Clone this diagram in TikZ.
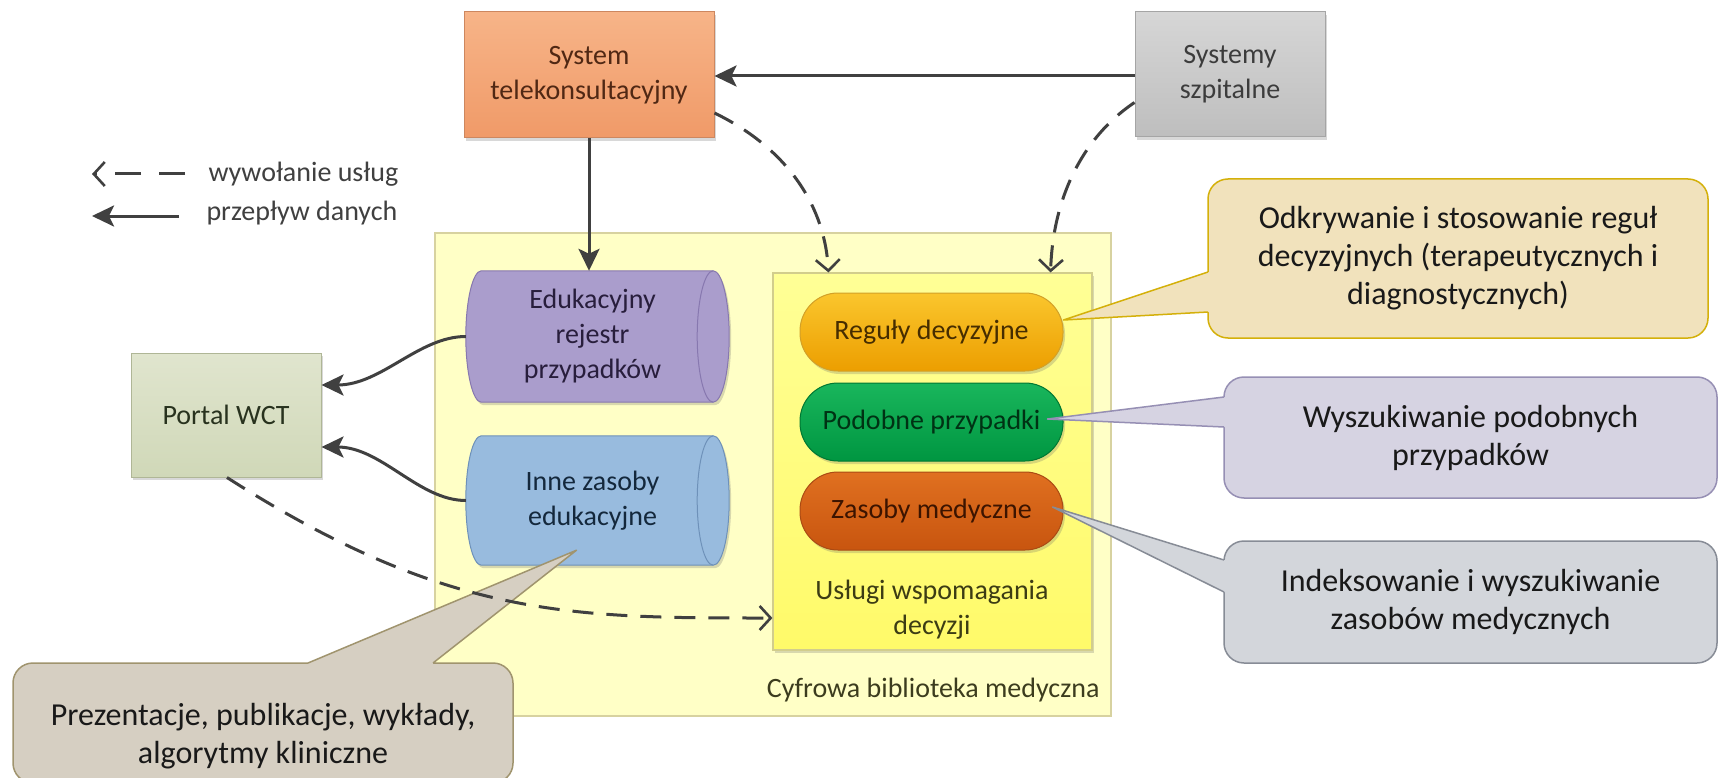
\documentclass[tikz,border=0pt]{standalone}
\usepackage{fontspec}
\setmainfont{Carlito}
\usetikzlibrary{arrows.meta,calc,shadows}

% palette
\definecolor{arrowgray}{RGB}{64,64,64}
\definecolor{teleTop}{RGB}{247,180,136}
\definecolor{teleBot}{RGB}{240,154,104}
\definecolor{teleLine}{RGB}{205,135,95}
\definecolor{teleText}{RGB}{80,40,20}
\definecolor{hospTop}{RGB}{214,214,214}
\definecolor{hospBot}{RGB}{190,190,190}
\definecolor{hospLine}{RGB}{165,165,165}
\definecolor{portTop}{RGB}{224,229,206}
\definecolor{portBot}{RGB}{208,216,184}
\definecolor{portLine}{RGB}{175,182,150}
\definecolor{libFill}{RGB}{255,255,198}
\definecolor{libLine}{RGB}{215,210,160}
\definecolor{dssTop}{RGB}{255,255,150}
\definecolor{dssBot}{RGB}{255,250,105}
\definecolor{dssLine}{RGB}{210,205,140}
\definecolor{eduFill}{RGB}{170,157,204}
\definecolor{eduLine}{RGB}{135,120,175}
\definecolor{eduText}{RGB}{40,30,60}
\definecolor{inneFill}{RGB}{152,187,222}
\definecolor{inneLine}{RGB}{110,145,185}
\definecolor{inneText}{RGB}{20,40,60}
\definecolor{regTop}{RGB}{250,198,45}
\definecolor{regBot}{RGB}{236,158,0}
\definecolor{regLine}{RGB}{210,160,40}
\definecolor{podTop}{RGB}{25,182,92}
\definecolor{podBot}{RGB}{0,150,65}
\definecolor{podLine}{RGB}{0,120,50}
\definecolor{zasTop}{RGB}{224,112,32}
\definecolor{zasBot}{RGB}{200,85,15}
\definecolor{zasLine}{RGB}{170,75,20}
\definecolor{cAfill}{RGB}{241,226,188}
\definecolor{cAline}{RGB}{212,176,10}
\definecolor{cBfill}{RGB}{214,211,226}
\definecolor{cBline}{RGB}{150,143,180}
\definecolor{cCfill}{RGB}{211,214,219}
\definecolor{cCline}{RGB}{135,140,150}
\definecolor{cDfill}{RGB}{214,207,194}
\definecolor{cDline}{RGB}{160,148,110}

% horizontal drum (storage) outline built on the frame node #1
\newcommand{\drawdrum}[3]{%
  \draw[#2] ($(#1.north west)+(15.5,0)$) -- ($(#1.north east)+(-16,0)$)
    .. controls ($(#1.north east)+(-7.2,0)$) and ($(#1.east)+(0,-36)$) .. (#1.east)
    .. controls ($(#1.east)+(0,36)$) and ($(#1.south east)+(-7.2,0)$) .. ($(#1.south east)+(-16,0)$)
    -- ($(#1.south west)+(15.5,0)$)
    .. controls ($(#1.south west)+(7,0)$) and ($(#1.west)+(0,36)$) .. (#1.west)
    .. controls ($(#1.west)+(0,-36)$) and ($(#1.north west)+(7,0)$) .. ($(#1.north west)+(15.5,0)$)
    -- cycle;
  \draw[#3] ($(#1.north east)+(-16,0)$)
    .. controls ($(#1.north east)+(-24.8,0)$) and ($(#1.east)+(-32,-36)$) .. ($(#1.east)+(-32,0)$)
    .. controls ($(#1.east)+(-32,36)$) and ($(#1.south east)+(-24.8,0)$) .. ($(#1.south east)+(-16,0)$);
}

\begin{document}
\begin{tikzpicture}[x=1pt,y=-1pt,
  lbl/.style={font=\fontsize{28}{35}\selectfont, align=center},
  calltxt/.style={font=\fontsize{32}{38}\selectfont, align=center, text=black!90},
  shadowed/.style={drop shadow={shadow xshift=2pt,shadow yshift=-3pt,opacity=0.25,fill=black!60}},
  sysbox/.style={lbl, draw, line width=1pt, shadowed, inner sep=0pt},
  pill/.style={lbl, draw, line width=1pt, rounded corners=38pt, minimum width=263pt, minimum height=78pt, shadowed, inner sep=0pt},
  frame/.style={inner sep=0pt, minimum width=263pt},
  callbox/.style={calltxt, draw, line width=1.5pt, rounded corners=20pt, inner sep=0pt},
  flow/.style={line width=3pt, draw=arrowgray, -{Stealth[length=22pt,width=21pt,inset=5pt]}},
  invoke/.style={line width=3pt, draw=arrowgray, dash pattern=on 21pt off 13pt,
    -{Straight Barb[length=11pt,width=24pt,line width=2.6pt]}},
]
\useasboundingbox (0,0) rectangle (1720,778);
\fill[white] (0,0) rectangle (1720,778);

% library container and decision-support panel
\node[draw=libLine, fill=libFill, line width=1.2pt, minimum width=676pt, minimum height=483pt, inner sep=0pt] (lib) at (773,474.5) {};
\node[lbl, anchor=east, text={rgb,255:red,60;green,60;blue,30}] (libname) at (1103,690) {Cyfrowa biblioteka medyczna};
\node[draw=dssLine, top color=dssTop, bottom color=dssBot, line width=1.2pt, minimum width=319pt, minimum height=377pt, inner sep=0pt, shadowed] (dss) at (932.5,461.5) {};
\node[lbl, text={rgb,255:red,60;green,60;blue,20}] (dssname) at (932,610) {Usługi wspomagania\\decyzji};

% services
\node[pill, draw=regLine, top color=regTop, bottom color=regBot, text={rgb,255:red,70;green,45;blue,0}] (reg) at (931.5,332) {Reguły decyzyjne};
\node[pill, draw=podLine, top color=podTop, bottom color=podBot, text={rgb,255:red,0;green,50;blue,20}] (pod) at (931.5,422) {Podobne przypadki};
\node[pill, draw=zasLine, top color=zasTop, bottom color=zasBot, text={rgb,255:red,60;green,20;blue,0}] (zas) at (931.5,511) {Zasoby medyczne};

% repositories
\node[frame, minimum height=131pt] (edu) at (597.5,336.5) {};
\drawdrum{edu}{draw=eduLine, fill=eduFill, line width=1pt, shadowed}{draw=eduLine, line width=1pt}
\node[lbl, text=eduText] (edulabel) at ($(edu.center)+(-5,0)$) {Edukacyjny\\rejestr\\przypadków};
\node[frame, minimum height=129pt] (inne) at (597.5,500.5) {};
\drawdrum{inne}{draw=inneLine, fill=inneFill, line width=1pt, shadowed}{draw=inneLine, line width=1pt}
\node[lbl, text=inneText] (innelabel) at ($(inne.center)+(-5,0)$) {Inne zasoby\\edukacyjne};

% external systems
\node[sysbox, draw=teleLine, top color=teleTop, bottom color=teleBot, text=teleText, minimum width=250pt, minimum height=126pt] (tele) at (589,75) {System\\telekonsultacyjny};
\node[sysbox, draw=hospLine, top color=hospTop, bottom color=hospBot, text={rgb,255:red,60;green,60;blue,60}, minimum width=190pt, minimum height=125pt] (hosp) at (1230,74.5) {Systemy\\szpitalne};
\node[sysbox, draw=portLine, top color=portTop, bottom color=portBot, text={rgb,255:red,40;green,50;blue,30}, minimum width=190pt, minimum height=124pt] (portal) at (226,415) {Portal WCT};

% callouts
\node[callbox, draw=cAline, fill=cAfill, minimum width=500pt, minimum height=159pt] (noteA) at (1458,258.5) {Odkrywanie i stosowanie reguł\\decyzyjnych (terapeutycznych i\\diagnostycznych)};
\coordinate (tipA) at ($(reg.east)+(0,-12)$);
\fill[cAfill] (1208,272) -- (tipA) -- (1208,312) -- (1214,312) -- (1214,272) -- cycle;
\draw[cAline, line width=1.5pt, line join=round] (1208,272) -- (tipA) -- (1208,312);

\node[callbox, draw=cBline, fill=cBfill, minimum width=493pt, minimum height=121pt] (noteB) at (1470.5,437.5) {Wyszukiwanie podobnych\\przypadków};
\coordinate (tipB) at ($(pod.east)+(-16,-3)$);
\fill[cBfill] (1224,397) -- (tipB) -- (1224,427) -- (1230,427) -- (1230,397) -- cycle;
\draw[cBline, line width=1.5pt, line join=round] (1224,397) -- (tipB) -- (1224,427);

\node[callbox, draw=cCline, fill=cCfill, minimum width=493pt, minimum height=122pt] (noteC) at (1470.5,602) {Indeksowanie i wyszukiwanie\\zasobów medycznych};
\coordinate (tipC) at ($(zas.east)+(-11,-4)$);
\fill[cCfill] (1224,560) -- (tipC) -- (1224,592) -- (1230,592) -- (1230,560) -- cycle;
\draw[cCline, line width=1.5pt, line join=round] (1224,560) -- (tipC) -- (1224,592);

\node[callbox, draw=cDline, fill=cDfill, minimum width=500pt, minimum height=120pt] (noteD) at (263,723) {};
\node[calltxt] (noteDtext) at (263,736) {Prezentacje, publikacje, wykłady,\\algorytmy kliniczne};
\coordinate (tipD) at ($(inne.south)+(-21,-15)$);
\fill[cDfill] (308,663) -- (tipD) -- (433,663) -- (433,669) -- (308,669) -- cycle;
\draw[cDline, line width=1.5pt, line join=round] (308,663) -- (tipD) -- (433,663);

% data flow
\draw[flow] (hosp.west |- 0,76) -- (tele.east |- 0,76);
\draw[flow] (tele.south) -- (tele.south |- edu.north);
\draw[flow] (edu.west) .. controls +(-47,0) and +(60,0) .. ($(portal.east)+(0,-30)$);
\draw[flow] (inne.west) .. controls +(-47,0) and +(60,0) .. ($(portal.east)+(0,32)$);

% service calls
\draw[invoke] ($(tele.east)+(0,38)$) .. controls +(76,37) and +(-3,-63) .. ($(dss.north west)+(56,0)$);
\draw[invoke] ($(hosp.west)+(0,28)$) .. controls +(-55,37) and +(2,-70) .. ($(dss.north east)+(-42,0)$);
\draw[invoke] ($(portal.south)+(1,0)$) .. controls +(220,141) and +(-200,0) .. ($(dss.west)+(0,156.5)$);

% legend
\coordinate (legA1) at (185,174);
\coordinate (legA2) at (92,174);
\coordinate (legB1) at (179,216);
\coordinate (legB2) at (92,216);
\draw[invoke, dash pattern=on 26pt off 18pt] (legA1) -- (legA2);
\draw[flow] (legB1) -- (legB2);
\node[lbl, anchor=west, text=arrowgray] (legAtext) at (205,174) {wywołanie usług};
\node[lbl, anchor=west, text=arrowgray] (legBtext) at (203,213) {przepływ danych};
\end{tikzpicture}
\end{document}
